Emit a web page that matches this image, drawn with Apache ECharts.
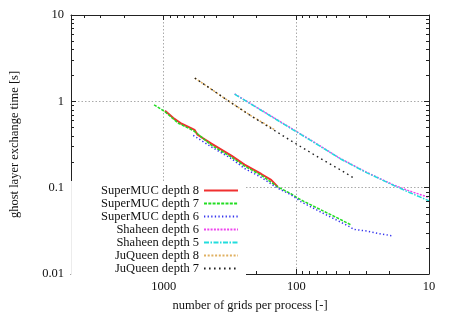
<!DOCTYPE html>
<html><head><meta charset="utf-8">
<script src="https://cdn.jsdelivr.net/npm/echarts@6/dist/echarts.min.js"></script>
<style>html,body{margin:0;padding:0;background:#fff}#c{width:452px;height:317px}</style>
</head><body><div id="c"></div>
<script>
const seriesNames = ['SuperMUC depth 8','SuperMUC depth 7','SuperMUC depth 6','Shaheen depth 6','Shaheen depth 5','JuQueen depth 8','JuQueen depth 7'];
const superMUC8 = [[978,0.78],[846,0.64],[733,0.55],[617,0.486],[586,0.467],[556,0.41],[437,0.323],[309,0.235],[246,0.185],[184,0.144],[155,0.123],[138,0.102]];
const superMUC7 = [[1182,0.912],[983,0.762],[776,0.558],[599,0.459],[556,0.421],[437,0.31],[309,0.226],[246,0.178],[184,0.139],[138,0.102],[110,0.0851],[92.5,0.0723],[65.5,0.0555],[49.1,0.0446],[39.1,0.0373]];
const superMUC6 = [[599,0.404],[437,0.296],[309,0.217],[246,0.167],[184,0.1316],[138,0.0985],[110,0.0829],[92.5,0.0689],[65.5,0.0522],[49.1,0.0417],[39.1,0.0349],[36.9,0.0329],[29.3,0.0314],[23.3,0.0292],[18.5,0.0275]];
const shaheen6 = [[292,1.219],[184,0.793],[115.8,0.514],[73.9,0.3387],[46.4,0.217],[29.6,0.151],[18.5,0.1074],[13.9,0.091],[10,0.077]];
const shaheen5 = [[292,1.21],[184,0.786],[115.8,0.509],[73.9,0.335],[46.4,0.215],[29.6,0.1495],[18.5,0.1064],[13.9,0.0874],[10,0.0704]];
const juQueen8 = [[583,1.86],[437,1.38],[328,1.02],[219,0.68],[147,0.474]];
const juQueen7 = [[583,1.86],[437,1.38],[328,1.019],[219,0.676],[155,0.486],[110,0.35],[92.5,0.298],[65.5,0.217],[46.4,0.1604],[36.5,0.128]];
const xTickValues = [10,100,1000];
const xTickLabels = ['10','100','1000'];
const yTickValues = [0.01,0.1,1,10];
const yTickLabels = ['0.01','0.1','1','10'];
const xMinorTicks = [20,30,40,50,60,70,80,90,200,300,400,500,600,700,800,900,2000,3000,4000];
const yMinorTicks = [0.02,0.03,0.04,0.05,0.06,0.07,0.08,0.09,0.2,0.3,0.4,0.5,0.6,0.7,0.8,0.9,2,3,4,5,6,7,8,9];
const X_MIN = 10, X_MAX = 5000, Y_MIN = 0.01, Y_MAX = 10;

const FONT = 'Liberation Serif';
const styles = [
  {color:'#f03030', type:'solid', width:2},
  {color:'#22dd22', type:[3,1.3], width:1.5},
  {color:'#3535ee', type:[1.3,2.3], width:1.5},
  {color:'#ee44ee', type:[2,1.3], width:1.5},
  {color:'#22dddd', type:[5,1.5,1.5,1.5], width:1.5},
  {color:'#e0b060', type:[2,1.7], width:1.5},
  {color:'#222222', type:[1.6,3.4], width:1.4}
];
const datasets = [superMUC8, superMUC7, superMUC6, shaheen6, shaheen5, juQueen8, juQueen7];

function labelFor(vals, labs){
  return function(v){
    for (let i=0;i<vals.length;i++) if (Math.abs(Math.log10(v)-Math.log10(vals[i]))<1e-6) return labs[i];
    return '';
  };
}
const axisLineStyle = {color:'#222', width:1};
const tickStyle = {show:true, inside:true, length:5, lineStyle:{color:'#222', width:1}};
const labelStyle = {fontFamily:FONT, fontSize:12.5, color:'#111'};
const gridLine = {show:true, lineStyle:{color:'#aaa', type:[1.5,2], width:1}};

const chart = echarts.init(document.getElementById('c'), null, {renderer:'canvas'});
const lineSeries = datasets.map((d,i)=>({
  name: seriesNames[i], type:'line', data:d, symbol:'none', showSymbol:false,
  xAxisIndex:0, yAxisIndex:0, z: 3+i,
  lineStyle:{color:styles[i].color, type:styles[i].type, width:styles[i].width},
  itemStyle:{color:styles[i].color}, animation:false
}));
const minorX = {
  type:'custom', xAxisIndex:0, yAxisIndex:0, silent:true, animation:false, z:10,
  data: xMinorTicks.map(v=>[v, Y_MIN]),
  renderItem(params, api){
    const v = api.value(0);
    const b = api.coord([v, Y_MIN]), t = api.coord([v, Y_MAX]);
    const x = Math.round(b[0])+0.5;
    return {type:'group', children:[
      {type:'line', shape:{x1:x,y1:b[1],x2:x,y2:b[1]-3}, style:{stroke:'#222', lineWidth:1}},
      {type:'line', shape:{x1:x,y1:t[1],x2:x,y2:t[1]+3}, style:{stroke:'#222', lineWidth:1}}
    ]};
  }
};
const minorY = {
  type:'custom', xAxisIndex:0, yAxisIndex:0, silent:true, animation:false, z:10,
  data: yMinorTicks.map(v=>[X_MIN, v]),
  renderItem(params, api){
    const v = api.value(1);
    const l = api.coord([X_MAX, v]), r = api.coord([X_MIN, v]);
    const y = Math.round(l[1])+0.5;
    return {type:'group', children:[
      {type:'line', shape:{x1:l[0],y1:y,x2:l[0]+3,y2:y}, style:{stroke:'#222', lineWidth:1}},
      {type:'line', shape:{x1:r[0],y1:y,x2:r[0]-3,y2:y}, style:{stroke:'#222', lineWidth:1}}
    ]};
  }
};

chart.setOption({
  animation:false,
  backgroundColor:'#fff',
  grid:{left:69, right:23, top:15, bottom:40, containLabel:false},
  legend:{
    data: seriesNames, orient:'vertical', align:'right',
    right:206, top:181, padding:[3,7,4,30],
    backgroundColor:'#fff', itemWidth:34, itemHeight:8, itemGap:0,
    itemStyle:{opacity:0, color:'rgba(0,0,0,0)', borderWidth:0},
    textStyle:{fontFamily:FONT, fontSize:12.5, color:'#111', lineHeight:12.67},
    selectedMode:false, z:20
  },
  xAxis:[
    {type:'log', logBase:10, min:X_MIN, max:X_MAX, inverse:true, position:'bottom',
     name:'number of grids per process [-]', nameLocation:'middle', nameGap:25,
     nameTextStyle:{fontFamily:FONT, fontSize:12.5, color:'#111'},
     axisLine:{show:true, lineStyle:axisLineStyle}, axisTick:tickStyle,
     axisLabel:Object.assign({formatter:labelFor(xTickValues,xTickLabels), margin:6, showMinLabel:true, showMaxLabel:true}, labelStyle),
     splitLine:gridLine},
    {type:'log', logBase:10, min:X_MIN, max:X_MAX, inverse:true, position:'top',
     axisLine:{show:true, lineStyle:axisLineStyle}, axisTick:tickStyle,
     axisLabel:{show:false}, splitLine:{show:false}}
  ],
  yAxis:[
    {type:'log', logBase:10, min:Y_MIN, max:Y_MAX, position:'left',
     name:'ghost layer exchange time [s]', nameLocation:'middle', nameGap:50, nameRotate:90,
     nameTextStyle:{fontFamily:FONT, fontSize:12.5, color:'#111'},
     axisLine:{show:true, lineStyle:axisLineStyle}, axisTick:tickStyle,
     axisLabel:Object.assign({formatter:labelFor(yTickValues,yTickLabels), margin:7}, labelStyle),
     splitLine:gridLine},
    {type:'log', logBase:10, min:Y_MIN, max:Y_MAX, position:'right',
     axisLine:{show:true, lineStyle:axisLineStyle}, axisTick:tickStyle,
     axisLabel:{show:false}, splitLine:{show:false}}
  ],
  series: lineSeries.concat([minorX, minorY])
});
</script></body></html>
